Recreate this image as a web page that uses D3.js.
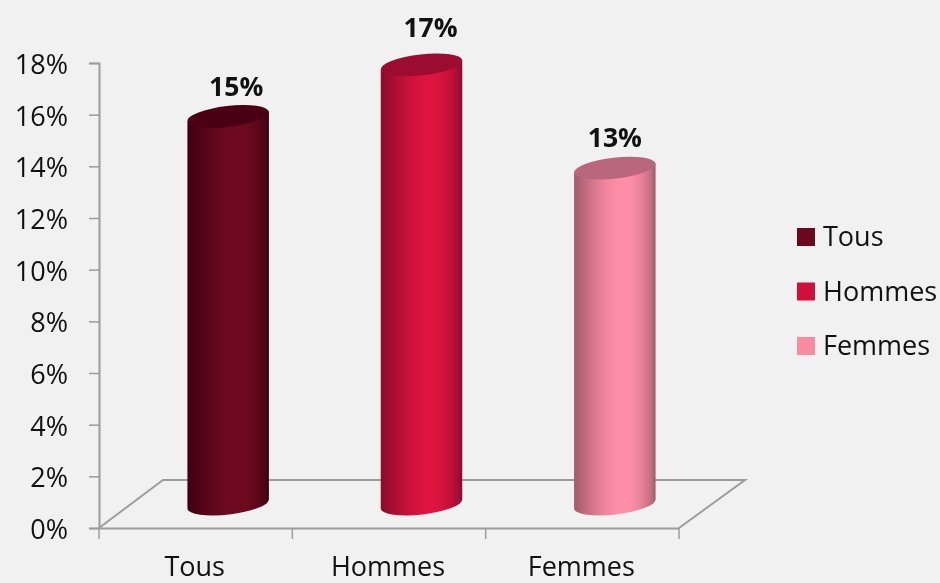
<!DOCTYPE html>
<html>
<head>
<meta charset="utf-8">
<script src="https://cdn.jsdelivr.net/npm/d3@7"></script>
<style>
  html, body { margin: 0; padding: 0; background: #f1f1f1; overflow: hidden; }
  text { font-family: "Open Sans", sans-serif; fill: #111; }
</style>
</head>
<body>
<svg></svg>
<script>
const categories = ['Tous', 'Hommes', 'Femmes'];
const values = [15, 17, 13];
const yTicks = [0, 2, 4, 6, 8, 10, 12, 14, 16, 18];
const colorMid = ['#6f0a1f', '#dd143f', '#ff8fa8'];
const colorEdge = ['#3c0010', '#8a0a2c', '#a05a6a'];
const colorTop = ['#4a0012', '#9c0c30', '#b8677c'];
const colorLegend = ['#6b081c', '#cf103a', '#f88ba0'];

const size = {w: 940, h: 583};
const plot = {l: 99, r: 679, t: 63, b: 528};
// depth of the floor, the columns stand halfway back
const depth = {x: 65, y: 48};

const svg = d3.select('svg')
    .attr('width', size.w)
    .attr('height', size.h);

const defs = svg.append('defs');
// sRGB here, the default linearRGB puts bands in the dark gradients
defs.append('filter').attr('id', 'soft')
    .attr('color-interpolation-filters', 'sRGB')
    .append('feGaussianBlur').attr('stdDeviation', 0.45);

// round shading across each column, brightest a bit right of the middle
categories.forEach((c, i) => {
    let shade = d3.interpolateRgb(colorEdge[i], colorMid[i]);
    let grad = defs.append('linearGradient').attr('id', 'cyl' + i);
    d3.range(0, 1.001, 0.05).forEach(t => {
        let s = Math.pow(Math.sin(Math.PI * Math.pow(t, 1.357)), 0.7);
        grad.append('stop').attr('offset', t).attr('stop-color', shade(s));
    });
});

const x = d3.scaleBand().domain(categories).range([plot.l, plot.r]);
const y = d3.scaleLinear().domain([0, 18]).range([plot.b, plot.t]);

const chart = svg.append('g').attr('filter', 'url(#soft)');

// --------- FLOOR ----------
chart.append('path')
    .attr('d', d3.line()([
        [plot.l, plot.b],
        [plot.l + depth.x - 1, plot.b - depth.y],
        [plot.r + depth.x + 1, plot.b - depth.y],
        [plot.r, plot.b]
    ]))
    .attr('fill', 'none')
    .attr('stroke', '#9c9c9c')
    .attr('stroke-width', 2);

// --------- AXES ----------
const yAxis = chart.append('g')
    .attr('transform', `translate(${plot.l},0)`)
    .call(d3.axisLeft(y).tickValues(yTicks).tickSize(10).tickPadding(21).tickFormat(d => d + '%'));
const xAxis = chart.append('g')
    .attr('transform', `translate(0,${plot.b})`)
    .call(d3.axisBottom(x).tickSize(0).tickPadding(29));
xAxis.selectAll('.tick text').attr('dx', -1);

chart.append('g').selectAll('line')
    .data(d3.range(categories.length + 1))
    .join('line')
    .attr('x1', d => plot.l + d * x.step())
    .attr('x2', d => plot.l + d * x.step())
    .attr('y1', plot.b)
    .attr('y2', plot.b + 11)
    .attr('stroke', '#9c9c9c')
    .attr('stroke-width', 1.5);

[yAxis, xAxis].forEach(a => {
    a.selectAll('.domain').attr('stroke', '#9c9c9c').attr('stroke-width', 2);
    a.selectAll('line').attr('stroke', '#9c9c9c').attr('stroke-width', 1.5);
    a.selectAll('text').style('font-size', '27px').attr('fill', '#111');
});
yAxis.selectAll('.tick text').attr('y', 2);

// --------- CYLINDERS ----------
const rx = 41, ry = 10.5, tilt = -6.5;
const tipX = rx * Math.cos(tilt * Math.PI / 180);
const tipY = rx * Math.sin(tilt * Math.PI / 180);

const cyl = chart.append('g').selectAll('g')
    .data(categories)
    .join('g')
    .attr('transform', d => `translate(${x(d) + x.bandwidth() / 2 + depth.x / 2},${-depth.y / 2})`);

cyl.append('path')
    .attr('d', (d, i) => {
        let t = y(values[i]), b = y(0);
        return `M${-tipX},${t - tipY} L${-tipX},${b - tipY}` +
            ` A${rx},${ry} ${tilt} 0 0 ${tipX},${b + tipY}` +
            ` L${tipX},${t + tipY} Z`;
    })
    .attr('fill', (d, i) => `url(#cyl${i})`);

cyl.append('ellipse')
    .attr('rx', rx)
    .attr('ry', ry)
    .attr('transform', (d, i) => `translate(0,${y(values[i])}) rotate(${tilt})`)
    .attr('fill', (d, i) => colorTop[i]);

// value labels sit where the original chart dropped them
const labelNudge = [[8, -21], [9, -28], [0, -21]];
cyl.append('text')
    .attr('x', (d, i) => labelNudge[i][0])
    .attr('y', (d, i) => y(values[i]) + labelNudge[i][1])
    .attr('text-anchor', 'middle')
    .style('font-size', '26.5px')
    .style('font-weight', 700)
    .text((d, i) => values[i] + '%');

// --------- LEGEND ----------
const legendY = d3.scalePoint().domain(categories).range([237, 346]);
const legend = chart.append('g').selectAll('g')
    .data(categories)
    .join('g')
    .attr('transform', d => `translate(797,${legendY(d)})`);

legend.append('rect')
    .attr('y', -9)
    .attr('width', 18)
    .attr('height', 18)
    .attr('fill', (d, i) => colorLegend[i]);

legend.append('text')
    .attr('x', 26)
    .attr('y', 9)
    .style('font-size', '27px')
    .text(d => d);
</script>
</body>
</html>
